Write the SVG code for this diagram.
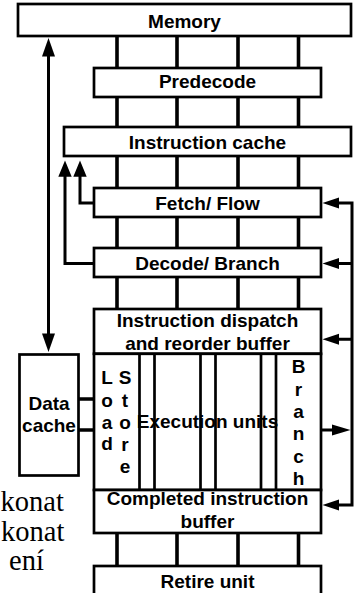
<svg xmlns="http://www.w3.org/2000/svg" width="358" height="593" viewBox="0 0 358 593">
  <style>
    .box { fill: #fff; stroke: #000; stroke-width: 2.7; }
    .lbl { font-family: "Liberation Sans", Arial, sans-serif; font-weight: bold; font-size: 19px; fill: #000; text-anchor: middle; }
    .bus { stroke: #000; stroke-width: 3.6; fill: none; }
    .wire { stroke: #000; stroke-width: 3; fill: none; }
    .col { stroke: #000; stroke-width: 2.7; }
    .note { font-family: "Liberation Serif", "Times New Roman", serif; font-size: 28.5px; fill: #000; }
    .head { fill: #000; }
  </style>

  <!-- side notes at the left edge -->
  <g id="notes">
    <text class="note" x="0.5" y="511">konat</text>
    <text class="note" x="1" y="541">konat</text>
    <text class="note" x="9" y="570">ení</text>
  </g>

  <!-- connectors -->
  <g id="connectors">
    <!-- four-wide buses between pipeline stages -->
    <g class="bus">
      <path d="M117,36V68M177,36V68M238,36V68M298.5,36V68"/>
      <path d="M117,97V127M177,97V127M238,97V127M298.5,97V127"/>
      <path d="M117,156V188M177,156V188M238,156V188M298.5,156V188"/>
      <path d="M117,217V248M177,217V248M238,217V248M298.5,217V248"/>
      <path d="M117,277V309M177,277V309M238,277V309M298.5,277V309"/>
      <path d="M117,533V566M177,533V566M238,533V566M298.5,533V566"/>
      <!-- data cache to load / store -->
      <path d="M78.5,399H94.5M78.5,430H94.5"/>
    </g>
    <!-- memory <-> data cache -->
    <path class="wire" d="M48.5,55V335"/>
    <polygon class="head" points="48.5,38 42,56.5 55,56.5"/>
    <polygon class="head" points="48.5,352 42,333.5 55,333.5"/>
    <!-- fetch and decode back to instruction cache -->
    <path class="wire" d="M94,203H80V175"/>
    <polygon class="head" points="80,160.5 73.3,176.7 86.7,176.7"/>
    <path class="wire" d="M94,263.5H65V175"/>
    <polygon class="head" points="65,160.5 58.3,176.7 71.7,176.7"/>
    <!-- branch feedback on the right -->
    <path class="wire" d="M337,203H352V505H337M337,263.5H352M337,339.3H352M321,430H333"/>
    <polygon class="head" points="322.5,203 339,197.5 339,208.5"/>
    <polygon class="head" points="322.5,263.5 339,258 339,269"/>
    <polygon class="head" points="322.5,339.3 339,333.8 339,344.8"/>
    <polygon class="head" points="322.5,505 339,499.5 339,510.5"/>
    <polygon class="head" points="350.5,430 332,424.5 332,435.5"/>
  </g>

  <g id="memory">
    <rect class="box" x="18" y="4" width="333" height="32"/>
    <text class="lbl" x="184.5" y="28">Memory</text>
  </g>

  <g id="predecode">
    <rect class="box" x="94" y="68" width="227" height="29"/>
    <text class="lbl" x="207.5" y="88">Predecode</text>
  </g>

  <g id="instruction-cache">
    <rect class="box" x="64" y="127" width="287" height="29"/>
    <text class="lbl" x="207.5" y="149">Instruction cache</text>
  </g>

  <g id="fetch-flow">
    <rect class="box" x="94" y="188" width="227" height="29"/>
    <text class="lbl" x="207.5" y="210">Fetch/ Flow</text>
  </g>

  <g id="decode-branch">
    <rect class="box" x="94" y="248" width="227" height="29"/>
    <text class="lbl" x="207.5" y="270">Decode/ Branch</text>
  </g>

  <g id="dispatch">
    <rect class="box" x="94" y="309" width="227" height="44.8"/>
    <text class="lbl" x="207.5" y="327">Instruction dispatch</text>
    <text class="lbl" x="207.5" y="350">and reorder buffer</text>
  </g>

  <g id="execution-units">
    <rect class="box" x="94" y="353.8" width="227" height="136.2"/>
    <text class="lbl" x="207.5" y="428">Execution units</text>
    <path class="col" d="M139.5,353.8V490M154.5,353.8V490M200.5,353.8V490M215.5,353.8V490M261,353.8V490M276,353.8V490"/>
    <g class="lbl">
      <text x="107" y="384">L</text>
      <text x="107" y="406.5">o</text>
      <text x="107" y="429">a</text>
      <text x="107" y="450">d</text>
      <text x="125" y="384">S</text>
      <text x="125" y="406.5">t</text>
      <text x="125" y="429">o</text>
      <text x="125" y="450.5">r</text>
      <text x="125" y="473">e</text>
      <text x="298.5" y="373">B</text>
      <text x="298.5" y="396">r</text>
      <text x="298.5" y="418">a</text>
      <text x="298.5" y="440">n</text>
      <text x="298.5" y="462.5">c</text>
      <text x="298.5" y="485">h</text>
    </g>
  </g>

  <g id="completed-buffer">
    <rect class="box" x="94" y="490" width="227" height="43"/>
    <text class="lbl" x="207.5" y="505">Completed instruction</text>
    <text class="lbl" x="207.5" y="528">buffer</text>
  </g>

  <g id="retire-unit">
    <rect class="box" x="94" y="566" width="227" height="40"/>
    <text class="lbl" x="207.5" y="588">Retire unit</text>
  </g>

  <g id="data-cache">
    <rect class="box" x="19.5" y="354.5" width="59" height="121"/>
    <text class="lbl" x="49" y="410">Data</text>
    <text class="lbl" x="49" y="432">cache</text>
  </g>
</svg>
